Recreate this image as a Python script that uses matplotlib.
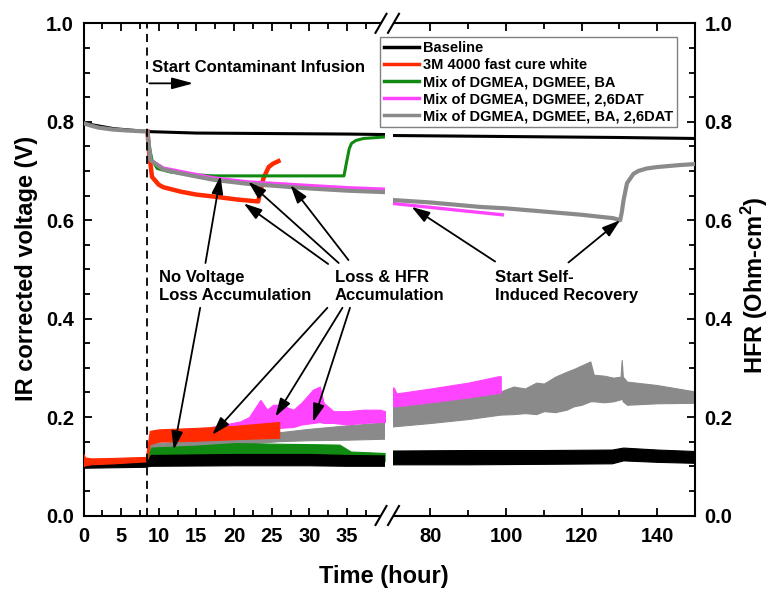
import matplotlib
matplotlib.use("Agg")
import matplotlib.pyplot as plt
from matplotlib.lines import Line2D
from matplotlib.patches import Polygon

plt.rcParams['font.family'] = ['Liberation Sans', 'DejaVu Sans']
plt.rcParams['font.weight'] = 'bold'
plt.rcParams['mathtext.fontset'] = 'custom'
plt.rcParams['mathtext.bf'] = 'Liberation Sans:bold'
plt.rcParams['mathtext.rm'] = 'Liberation Sans:bold'

# ---------------- data ----------------
series_names = ["Baseline", "3M 4000 fast cure white", "Mix of DGMEA, DGMEE, BA",
                "Mix of DGMEA, DGMEE, 2,6DAT", "Mix of DGMEA, DGMEE, BA, 2,6DAT"]
series_colors = ["#000000", "#ff2a00", "#118a11", "#ff44ff", "#8a8a8a"]

infusion_t = 8.5

# IR corrected voltage (V)
base_v_t = [0, 4, 8.5, 15, 25, 35, 40, 70, 100, 130, 150]
base_v = [0.797, 0.786, 0.780, 0.777, 0.776, 0.775, 0.774, 0.772, 0.770, 0.768, 0.766]

red_v_t = [8.5, 8.7, 9.1, 10.0, 10.6, 12.9, 15.0, 17.3, 20.4, 23.2, 23.5, 23.9, 24.6, 25.2, 25.9]
red_v = [0.780, 0.740, 0.688, 0.672, 0.667, 0.658, 0.652, 0.648, 0.642, 0.638, 0.658, 0.685, 0.708, 0.715, 0.720]

green_v_t = [8.5, 8.8, 9.1, 9.8, 11.5, 14.0, 17.3, 26.0, 34.6, 35.0, 35.3, 35.6, 36.2, 37.2, 40.0]
green_v = [0.780, 0.745, 0.722, 0.705, 0.698, 0.693, 0.690, 0.690, 0.690, 0.722, 0.745, 0.756, 0.762, 0.766, 0.769]

mag_v_t = [8.5, 8.9, 10.6, 12.9, 17.3, 21.7, 26.1, 30.5, 35.0, 40.0, 70, 80, 90, 99]
mag_v = [0.780, 0.722, 0.706, 0.699, 0.686, 0.678, 0.674, 0.670, 0.666, 0.663, 0.634, 0.626, 0.618, 0.611]

gray_v_t = [0, 1, 2, 4, 6, 8.5, 8.9, 10.6, 12.9, 17.3, 21.7, 26.1, 30.5, 35.0, 40.0,
            70, 80, 93, 100, 110.8, 120, 128.4, 130.2, 130.6, 131.1, 132, 133.7, 135, 137.2, 140, 146, 150]
gray_v = [0.797, 0.792, 0.788, 0.784, 0.782, 0.780, 0.722, 0.703, 0.695, 0.682, 0.674, 0.669, 0.664, 0.660, 0.657,
          0.641, 0.636, 0.627, 0.624, 0.617, 0.611, 0.604, 0.600, 0.615, 0.641, 0.675, 0.694, 0.700, 0.705, 0.708, 0.712, 0.714]

# HFR (Ohm-cm2): noisy traces read as lower / upper envelopes
base_h_t = [0, 4, 8.3, 8.6, 9, 20, 30, 35, 40, 70, 90, 110, 128, 131, 140, 150]
base_h_lo = [0.096, 0.097, 0.098, 0.099, 0.100, 0.101, 0.101, 0.100, 0.100, 0.104, 0.104, 0.105, 0.106, 0.112, 0.109, 0.107]
base_h_hi = [0.106, 0.107, 0.108, 0.112, 0.122, 0.124, 0.124, 0.122, 0.121, 0.132, 0.133, 0.133, 0.134, 0.138, 0.134, 0.131]

red_h_t = [0, 0.2, 1, 4, 8.3, 8.5, 8.8, 10, 15, 20, 26]
red_h_lo = [0.100, 0.102, 0.104, 0.106, 0.110, 0.115, 0.145, 0.150, 0.152, 0.155, 0.158]
red_h_hi = [0.125, 0.118, 0.116, 0.117, 0.119, 0.140, 0.172, 0.175, 0.178, 0.182, 0.190]

green_h_t = [8.5, 9, 15, 20, 25, 30, 34, 35.5, 40]
green_h_lo = [0.112, 0.118, 0.118, 0.118, 0.118, 0.118, 0.118, 0.112, 0.110]
green_h_hi = [0.118, 0.138, 0.142, 0.147, 0.146, 0.145, 0.144, 0.130, 0.127]

mag_h_t = [17, 20.8, 22, 23.5, 24.4, 25.2, 26.1, 27.9, 29, 30.5, 31.4, 31.9, 33.2, 35, 37.2, 39.4, 40,
           70.3, 71, 80, 90, 98, 98.6]
mag_h_lo = [0.175, 0.180, 0.180, 0.180, 0.180, 0.180, 0.178, 0.180, 0.185, 0.188, 0.190, 0.188, 0.188, 0.185, 0.188, 0.190, 0.190,
            0.222, 0.222, 0.230, 0.240, 0.249, 0.249]
mag_h_hi = [0.180, 0.191, 0.200, 0.235, 0.215, 0.225, 0.225, 0.215, 0.230, 0.256, 0.262, 0.229, 0.212, 0.212, 0.215, 0.215, 0.212,
            0.260, 0.248, 0.258, 0.270, 0.283, 0.283]

gray_h_t = [8.5, 9, 15, 20, 26, 30, 35, 40,
            70, 80, 90, 98.5, 102, 105, 108, 110, 113, 116, 118, 120, 122.3, 123.2, 126, 128.4,
            130.3, 130.6, 130.9, 132, 140, 150]
gray_h_lo = [0.115, 0.130, 0.138, 0.143, 0.150, 0.152, 0.153, 0.155,
             0.181, 0.188, 0.196, 0.205, 0.206, 0.208, 0.206, 0.212, 0.210, 0.215, 0.222, 0.225, 0.232, 0.232, 0.230, 0.232,
             0.236, 0.239, 0.232, 0.225, 0.228, 0.229]
gray_h_hi = [0.120, 0.145, 0.152, 0.158, 0.168, 0.175, 0.182, 0.188,
             0.222, 0.232, 0.243, 0.252, 0.262, 0.258, 0.270, 0.268, 0.282, 0.292, 0.298, 0.305, 0.313, 0.286, 0.284, 0.280,
             0.282, 0.316, 0.282, 0.272, 0.265, 0.252]

left_xticks = [0, 5, 10, 15, 20, 25, 30, 35]
right_xticks = [80, 100, 120, 140]
yticks = [0.0, 0.2, 0.4, 0.6, 0.8, 1.0]

# ---------------- figure ----------------
W, H = 772, 589
fig = plt.figure(figsize=(W / 100, H / 100), dpi=100)


def fx(px):
    return px / W


def fy(py):
    return 1 - py / H


top_px, bot_px = 23.3, 515.5
ax1 = fig.add_axes([fx(83.5), fy(bot_px), (384.6 - 83.5) / W, (bot_px - top_px) / H])
ax2 = fig.add_axes([fx(392.7), fy(bot_px), (695 - 392.7) / W, (bot_px - top_px) / H])

ax1.set_xlim(0, 40)
ax2.set_xlim(70, 150)
for ax in (ax1, ax2):
    ax.set_facecolor('none')
    ax.set_ylim(0, 1.0)
    for s in ax.spines.values():
        s.set_linewidth(1.5)
    ax.tick_params(which='both', direction='in', top=True, width=1.3, labelsize=14.5)
    ax.tick_params(which='major', length=6)
    ax.tick_params(which='minor', length=4.5)
    ax.set_yticks(yticks)
    ax.set_yticks([i * 0.05 for i in range(21) if i % 4 != 0], minor=True)
    ax.set_yticklabels(["%.1f" % v for v in yticks])

ax1.spines['right'].set_visible(False)
ax2.spines['left'].set_visible(False)
ax1.tick_params(which='both', right=False, left=True, pad=7)
ax1.tick_params(axis='x', pad=8)
ax2.tick_params(which='both', left=False, right=True, labelleft=False, labelright=True, pad=7)
ax2.tick_params(axis='x', pad=8)

ax1.set_xticks(left_xticks)
ax1.set_xticks([2.5 + 5 * i for i in range(8)], minor=True)
ax2.set_xticks(right_xticks)
ax2.set_xticks([90, 110, 130], minor=True)

c_k, c_r, c_g, c_m, c_gr = series_colors

# HFR bands (drawn on both panels, clipped to each)
for ax in (ax1, ax2):
    ax.fill_between(gray_h_t, gray_h_lo, gray_h_hi, color=c_gr, lw=0.8, ec=c_gr, zorder=2)
    ax.fill_between(mag_h_t, mag_h_lo, mag_h_hi, color=c_m, lw=0.8, ec=c_m, zorder=3)
    ax.fill_between(green_h_t, green_h_lo, green_h_hi, color=c_g, lw=0.8, ec=c_g, zorder=4)
    ax.fill_between(base_h_t, base_h_lo, base_h_hi, color=c_k, lw=0.8, ec=c_k, zorder=5)
    ax.fill_between(red_h_t, red_h_lo, red_h_hi, color=c_r, lw=0.8, ec=c_r, zorder=6)

    # voltage traces
    ax.plot(base_v_t, base_v, color=c_k, lw=2.2, zorder=7)
    ax.plot(red_v_t, red_v, color=c_r, lw=3.2, zorder=8)
    ax.plot(green_v_t, green_v, color=c_g, lw=2.2, zorder=9)
    ax.plot(mag_v_t, mag_v, color=c_m, lw=2.4, zorder=10)
    ax.plot(gray_v_t, gray_v, color=c_gr, lw=3.0, zorder=11)

# infusion marker
ax1.axvline(infusion_t, color='k', lw=1.3, ls=(0, (4.5, 3)), zorder=12)
ax1.annotate("", xy=(14.6, 0.878), xytext=(8.75, 0.878),
             arrowprops=dict(arrowstyle='-|>,head_length=1.3,head_width=0.35', color='k', lw=1.3,
                             mutation_scale=10, shrinkA=0, shrinkB=0), zorder=13)
ax1.text(9.1, 0.911, "Start Contaminant Infusion", fontsize=12, fontweight='bold', va='center', ha='left')

arrow_kw = dict(arrowstyle='-|>,head_length=1.1,head_width=0.35', color='k', lw=1.3,
                mutation_scale=10, shrinkA=0, shrinkB=0)

ann_fs = 12
ax1.text(10.0, 0.466, "No Voltage\nLoss Accumulation", fontsize=ann_fs, fontweight='bold',
         va='center', ha='left', linespacing=1.25, zorder=14)
ax1.text(33.4, 0.466, "Loss & HFR\nAccumulation", fontsize=ann_fs, fontweight='bold',
         va='center', ha='left', linespacing=1.25, zorder=14, clip_on=False)
ax2.text(97.1, 0.466, "Start Self-\nInduced Recovery", fontsize=ann_fs, fontweight='bold',
         va='center', ha='left', linespacing=1.25, zorder=14)

# arrows: (start_t, start_v) -> (tip_t, tip_v)
left_arrows = [((16.2, 0.513), (18.2, 0.690)),
               ((15.5, 0.422), (12.0, 0.134)),
               ((32.5, 0.511), (21.3, 0.634)),
               ((33.9, 0.513), (21.9, 0.678)),
               ((35.2, 0.519), (27.5, 0.671)),
               ((32.4, 0.422), (17.1, 0.164)),
               ((34.4, 0.422), (25.5, 0.201)),
               ((35.4, 0.422), (30.5, 0.190))]
for (s, t) in left_arrows:
    ax1.annotate("", xy=t, xytext=s, arrowprops=arrow_kw, zorder=15)
right_arrows = [((97.1, 0.516), (75.0, 0.627)),
                ((116.5, 0.514), (130.2, 0.600))]
for (s, t) in right_arrows:
    ax2.annotate("", xy=t, xytext=s, arrowprops=arrow_kw, zorder=15)

# axis labels
fig.text(fx(27), fy(268), "IR corrected voltage (V)", rotation=90, ha='center', va='center',
         fontsize=17, fontweight='bold')
fig.text(fx(755), fy(285), r"HFR (Ohm-cm$^\mathbf{2}$)", rotation=90, ha='center', va='center',
         fontsize=17, fontweight='bold')
fig.text(fx(384), fy(576), "Time (hour)", ha='center', va='center', fontsize=17, fontweight='bold')

# legend
handles = [Line2D([], [], color=c, lw=2.5) for c in series_colors]
leg = fig.legend(handles, series_names, loc='upper left', bbox_to_anchor=(fx(380), fy(37)),
                 bbox_transform=fig.transFigure, borderaxespad=0, frameon=True,
                 fancybox=False, edgecolor='#808080', framealpha=1, handlelength=2.4,
                 handletextpad=0.3, labelspacing=0.22, borderpad=0.25,
                 prop={'weight': 'bold', 'size': 10.5})
leg.get_frame().set_linewidth(1.0)
leg.set_zorder(20)

# axis break marks
for cy in (top_px, bot_px):
    c1, c2 = 381.0, 393.5
    dx, dy = 5.5, 9.5
    m = 4.5
    k = dx / dy
    poly = Polygon([(fx(c1 - m * k), fy(cy + m)), (fx(c1 + m * k), fy(cy - m)),
                    (fx(c2 + m * k), fy(cy - m)), (fx(c2 - m * k), fy(cy + m))],
                   closed=True, transform=fig.transFigure, fc='white', ec='none', zorder=30)
    fig.add_artist(poly)
    for c in (c1, c2):
        fig.add_artist(Line2D([fx(c - dx), fx(c + dx)], [fy(cy + dy), fy(cy - dy)],
                              transform=fig.transFigure, color='k', lw=1.5, zorder=31))

fig.savefig("out.png", dpi=100, facecolor='white')
